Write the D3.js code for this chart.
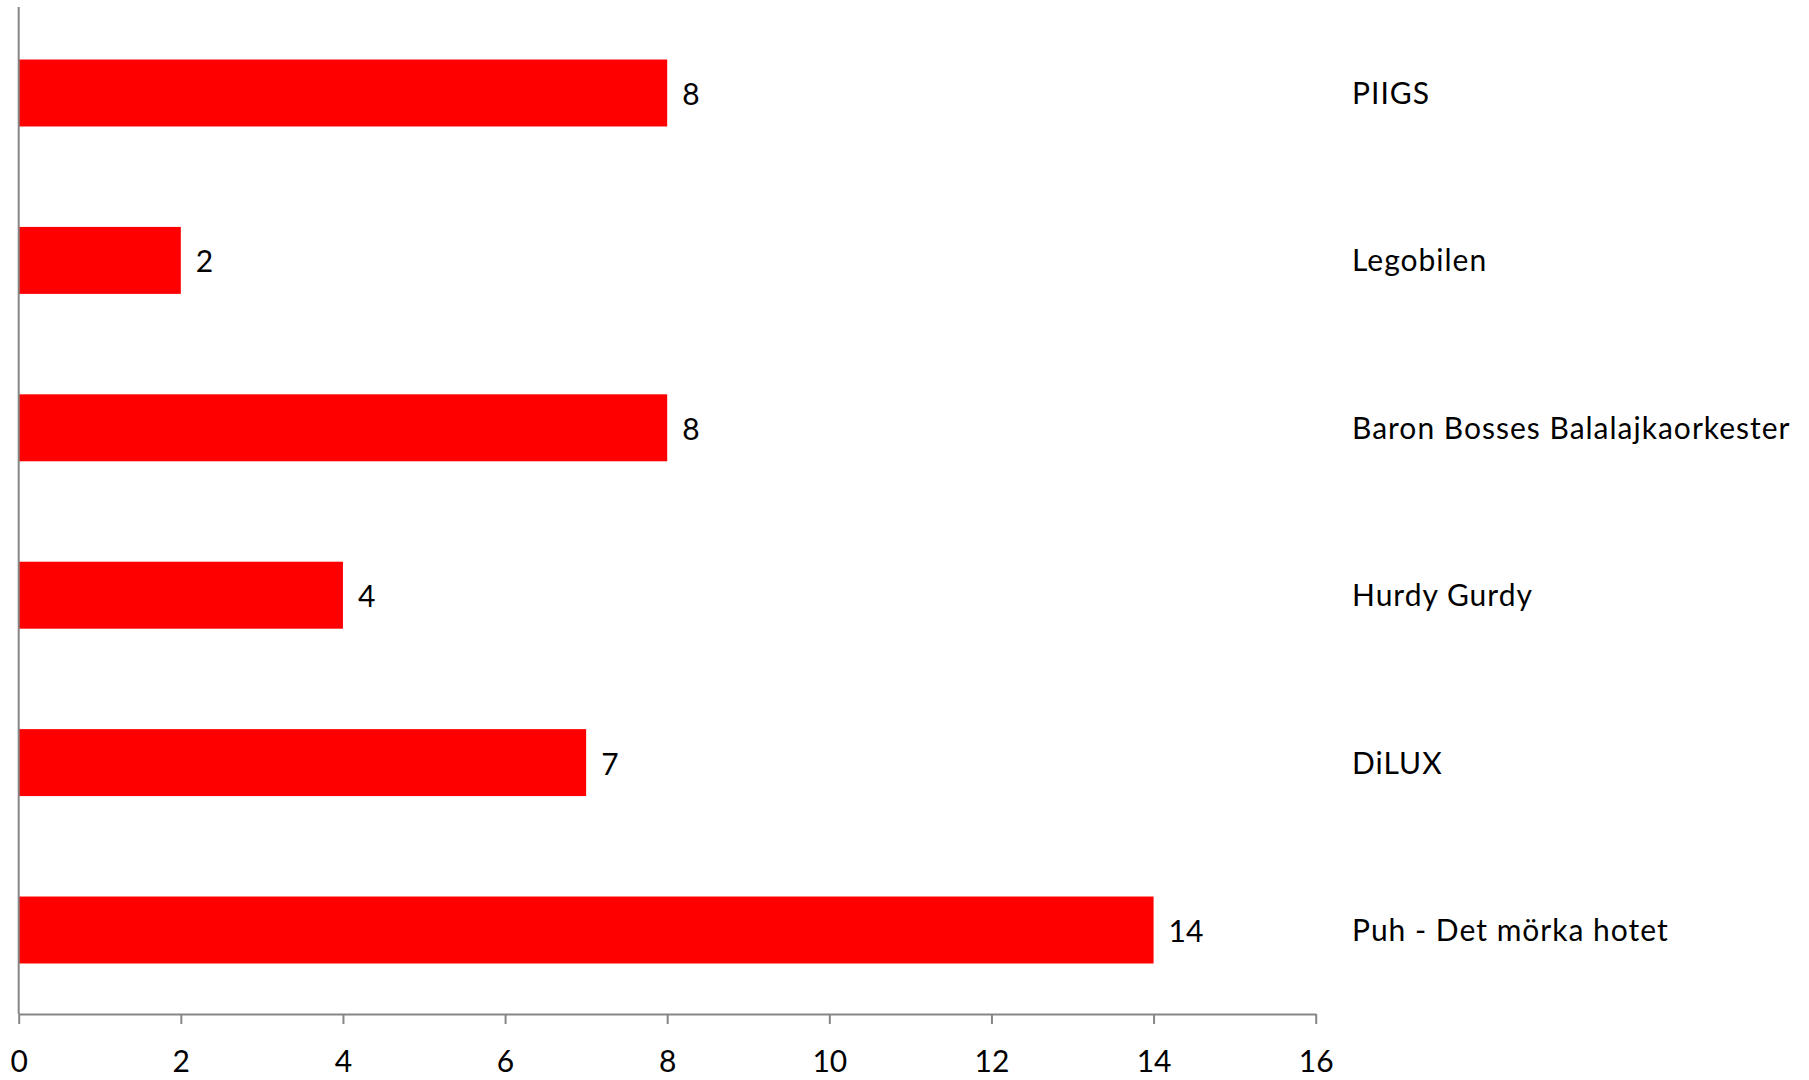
<!DOCTYPE html>
<html>
<head>
<meta charset="utf-8">
<script src="https://cdn.jsdelivr.net/npm/d3@7"></script>
<style>
  html, body { margin: 0; padding: 0; background: #fff; }
  svg { display: block; }
  text { font-family: Lato, "Open Sans", sans-serif; fill: #000; }
</style>
</head>
<body>
<svg id="chart" width="1809" height="1080"></svg>
<script>
const categories = ["PIIGS", "Legobilen", "Baron Bosses Balalajkaorkester", "Hurdy Gurdy", "DiLUX", "Puh - Det mörka hotet"];
const values = [8, 2, 8, 4, 7, 14];
const xTicks = [0, 2, 4, 6, 8, 10, 12, 14, 16];

const svg = d3.select("#chart");
const x = d3.scaleLinear().domain([0, 16]).range([18.7, 1315.7]);
const y = d3.scaleBand().domain(categories).range([9.3, 1013.7]).paddingInner(0.6).paddingOuter(0.3);
const axisY = 1014;
const fontSize = 30;

// bars
svg.selectAll("rect.bar").data(categories).enter().append("rect")
  .attr("class", "bar")
  .attr("x", x(0))
  .attr("y", d => y(d))
  .attr("width", (d, i) => x(values[i]) - x(0))
  .attr("height", y.bandwidth())
  .attr("fill", "#ff0000");

// value labels
svg.selectAll("text.val").data(categories).enter().append("text")
  .attr("class", "val")
  .attr("x", (d, i) => x(values[i]) + 15)
  .attr("y", d => y(d) + y.bandwidth() / 2 + 12)
  .attr("font-size", fontSize)
  .text((d, i) => values[i]);

// category labels on the right
svg.selectAll("text.cat").data(categories).enter().append("text")
  .attr("class", "cat")
  .attr("x", 1352)
  .attr("y", d => y(d) + y.bandwidth() / 2 + 11)
  .attr("font-size", fontSize)
  .attr("letter-spacing", 1)
  .text(d => d);

// vertical axis line
svg.append("line")
  .attr("x1", x(0)).attr("x2", x(0))
  .attr("y1", 7).attr("y2", axisY)
  .attr("stroke", "#868686").attr("stroke-width", 2);

// x axis
const xAxis = d3.axisBottom(x).tickValues(xTicks).tickSize(10).tickSizeOuter(0).tickPadding(24);
const gx = svg.append("g").attr("transform", `translate(0,${axisY})`).call(xAxis);
gx.select(".domain").attr("stroke", "#868686").attr("stroke-width", 2);
gx.selectAll(".tick line").attr("stroke", "#868686").attr("stroke-width", 2);
gx.selectAll(".tick text")
  .attr("font-size", fontSize)
  .attr("font-family", "Lato, 'Open Sans', sans-serif")
  .attr("fill", "#000")
  .attr("dy", null)
  .attr("y", 58);
</script>
</body>
</html>
